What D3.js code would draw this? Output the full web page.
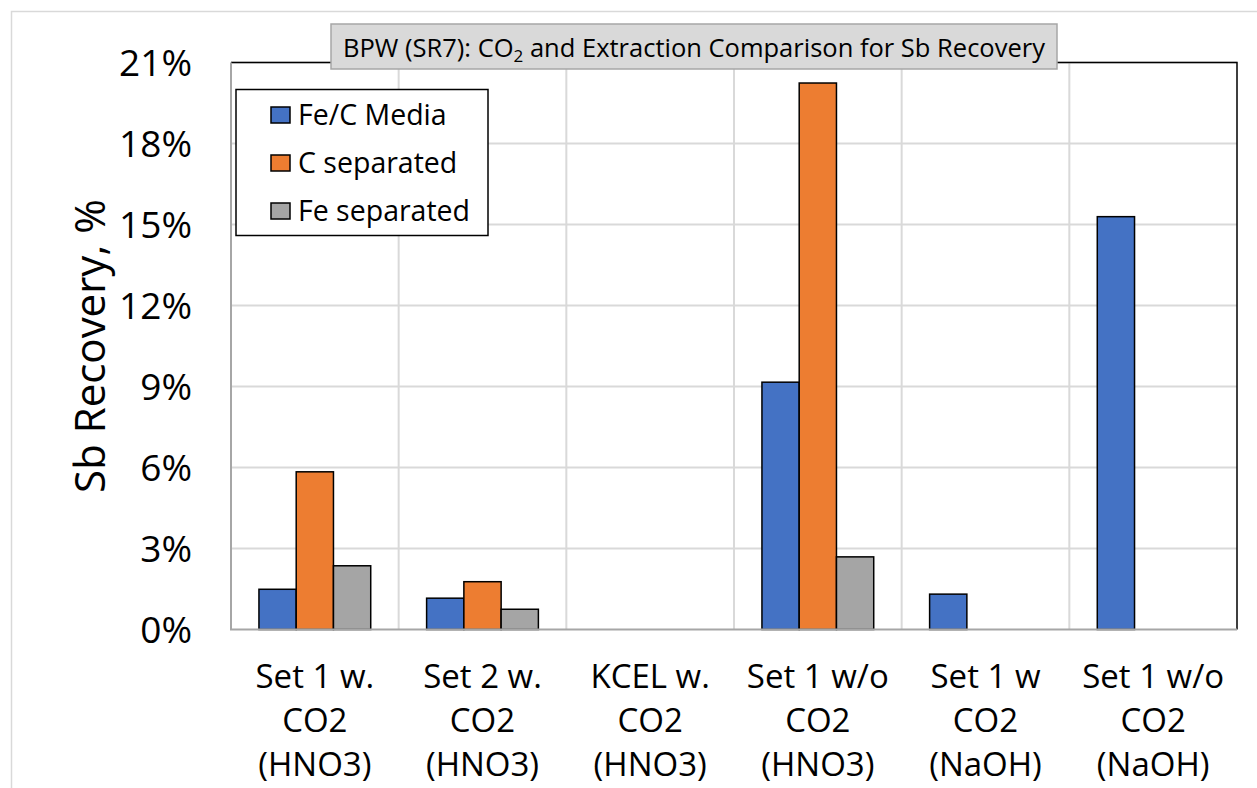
<!DOCTYPE html>
<html>
<head>
<meta charset="utf-8">
<script src="https://cdn.jsdelivr.net/npm/d3@7"></script>
<style>
  html, body { margin: 0; padding: 0; background: #fff; }
  svg { display: block; font-family: "Open Sans", sans-serif; }
</style>
</head>
<body>
<div id="chart"></div>
<script>
// chart data
const categories = [
    ["Set 1 w.", "CO2", "(HNO3)"],
    ["Set 2 w.", "CO2", "(HNO3)"],
    ["KCEL w.", "CO2", "(HNO3)"],
    ["Set 1 w/o", "CO2", "(HNO3)"],
    ["Set 1 w", "CO2", "(NaOH)"],
    ["Set 1 w/o", "CO2", "(NaOH)"]
];
const seriesNames = ["Fe/C Media", "C separated", "Fe separated"];
const seriesColors = ["#4472C4", "#ED7D31", "#A5A5A5"];
// recovery in %, null = no bar
const feCMedia = [1.49, 1.16, null, 9.16, 1.31, 15.29];
const cSeparated = [5.84, 1.77, null, 20.24, null, null];
const feSeparated = [2.36, 0.75, null, 2.69, null, null];
const yTicks = [0, 3, 6, 9, 12, 15, 18, 21];

const width = 1257;
const height = 788;
const plot = { left: 231, right: 1237, top: 62.5, bottom: 629.5 };

const catKeys = categories.map(c => c.join(" "));
const seriesValues = [feCMedia, cSeparated, feSeparated];

const x0 = d3.scaleBand()
    .domain(catKeys)
    .range([plot.left, plot.right])
    .padding(0);

const x1 = d3.scaleBand()
    .domain(seriesNames)
    .range([0, x0.bandwidth()])
    .paddingInner(0)
    .paddingOuter(0.75);

const y = d3.scaleLinear()
    .domain([0, 21])
    .range([plot.bottom, plot.top]);

const svg = d3.select("#chart").append("svg")
    .attr("width", width)
    .attr("height", height);

// outer chart border
svg.append("rect")
    .attr("x", 11.5).attr("y", 11.5)
    .attr("width", 1400).attr("height", 1000)
    .attr("fill", "none")
    .attr("stroke", "#d9d9d9")
    .attr("stroke-width", 1.5);

// gridlines
svg.append("g")
    .attr("stroke", "#d9d9d9")
    .attr("stroke-width", 2)
    .selectAll("line")
    .data(yTicks.filter(t => t > 0))
    .join("line")
    .attr("x1", plot.left).attr("x2", plot.right)
    .attr("y1", d => y(d)).attr("y2", d => y(d));

svg.append("g")
    .attr("stroke", "#d9d9d9")
    .attr("stroke-width", 2)
    .selectAll("line")
    .data(catKeys.slice(1))
    .join("line")
    .attr("x1", d => x0(d)).attr("x2", d => x0(d))
    .attr("y1", plot.top).attr("y2", plot.bottom);

// plot area border (top / right black)
svg.append("path")
    .attr("d", `M ${plot.left},${plot.top} H ${plot.right} V ${plot.bottom}`)
    .attr("fill", "none")
    .attr("stroke", "#000")
    .attr("stroke-width", 1.5);

// bars
const bars = [];
catKeys.forEach((c, i) => {
    seriesNames.forEach((s, j) => {
        const v = seriesValues[j][i];
        if (v != null && v > 0) bars.push({ cat: c, series: s, color: seriesColors[j], value: v });
    });
});

svg.append("g")
    .attr("stroke", "#000")
    .attr("stroke-width", 1.5)
    .selectAll("rect")
    .data(bars)
    .join("rect")
    .attr("x", d => x0(d.cat) + x1(d.series))
    .attr("y", d => y(d.value))
    .attr("width", x1.bandwidth())
    .attr("height", d => y(0) - y(d.value))
    .attr("fill", d => d.color);

// axis lines
svg.append("path")
    .attr("d", `M ${plot.left},${plot.top} V ${plot.bottom} H ${plot.right}`)
    .attr("fill", "none")
    .attr("stroke", "#a6a6a6")
    .attr("stroke-width", 2);

// y tick labels
svg.append("g")
    .attr("font-size", 37)
    .attr("fill", "#000")
    .attr("text-anchor", "end")
    .selectAll("text")
    .data(yTicks)
    .join("text")
    .attr("x", 192)
    .attr("y", d => y(d))
    .attr("dy", "0.36em")
    .text(d => d + "%");

// y axis title
svg.append("text")
    .attr("transform", `translate(90,${(plot.top + plot.bottom) / 2}) rotate(-90)`)
    .attr("text-anchor", "middle")
    .attr("dy", "0.36em")
    .attr("font-size", 42)
    .text("Sb Recovery, %");

// x category labels
const xl = svg.append("g")
    .attr("font-size", 33)
    .attr("text-anchor", "middle")
    .selectAll("text")
    .data(categories)
    .join("text")
    .attr("x", (d, i) => x0(catKeys[i]) + x0.bandwidth() / 2)
    .attr("y", 688);
xl.selectAll("tspan")
    .data(d => d)
    .join("tspan")
    .attr("x", function () { return this.parentNode.getAttribute("x"); })
    .attr("dy", (d, i) => i === 0 ? 0 : 44)
    .text(d => d);

// title box
const title = svg.append("g");
title.append("rect")
    .attr("x", 331).attr("y", 24)
    .attr("width", 726).attr("height", 45)
    .attr("fill", "#d9d9d9")
    .attr("stroke", "#a6a6a6")
    .attr("stroke-width", 1.5);
const tt = title.append("text")
    .attr("x", (331 + 1057) / 2)
    .attr("y", 57)
    .attr("text-anchor", "middle")
    .attr("font-size", 25.5)
    .attr("fill", "#000");
tt.append("tspan").text("BPW (SR7): CO");
tt.append("tspan").attr("font-size", 17).attr("dy", 5).text("2");
tt.append("tspan").attr("dy", -5).text(" and Extraction Comparison for Sb Recovery");

// legend
const legend = svg.append("g");
legend.append("rect")
    .attr("x", 236).attr("y", 89.5)
    .attr("width", 252).attr("height", 146)
    .attr("fill", "#fff")
    .attr("stroke", "#000")
    .attr("stroke-width", 1.5);
const legendY = [115, 163, 211];
const li = legend.selectAll("g.item")
    .data(seriesNames)
    .join("g")
    .attr("class", "item")
    .attr("transform", (d, i) => `translate(0,${legendY[i]})`);
li.append("rect")
    .attr("x", 271).attr("y", -8)
    .attr("width", 19).attr("height", 16)
    .attr("fill", (d, i) => seriesColors[i])
    .attr("stroke", "#000")
    .attr("stroke-width", 1.5);
li.append("text")
    .attr("x", 298)
    .attr("dy", "0.36em")
    .attr("font-size", 28.5)
    .text(d => d);
</script>
</body>
</html>
